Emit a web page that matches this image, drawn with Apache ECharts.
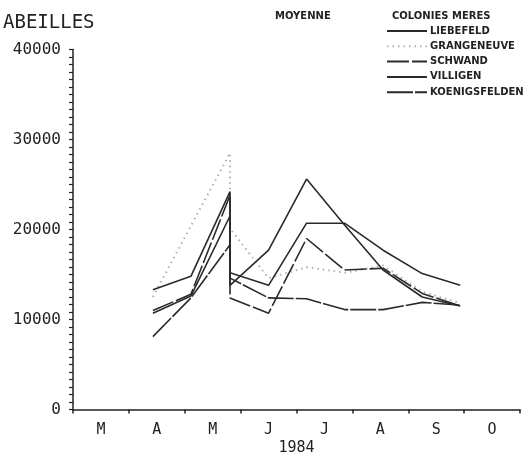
<!DOCTYPE html>
<html>
<head>
<meta charset="utf-8">
<script src="https://cdn.jsdelivr.net/npm/echarts@6/dist/echarts.min.js"></script>
<style>html,body{margin:0;padding:0;background:#fff}#c{width:532px;height:457px}</style>
</head>
<body>
<div id="c"></div>
<script>
// x positions: months elapsed since 1 March 1984 (samples every ~3 weeks)
var sampleMonths = [1.43, 2.11, 2.81, 2.81, 3.50, 4.18, 4.86, 5.55, 6.25, 6.93];
var monthLabels = ['M', 'A', 'M', 'J', 'J', 'A', 'S', 'O'];
var yTicks = [0, 10000, 20000, 30000, 40000];

var liebefeld     = [13300, 14800, 24200, 13800, 17700, 25600, 20500, 15500, 12500, 11500];
var grangeneuve   = [12500, 20400, 28500, 20100, 14600, 15800, 15200, 16000, 13100, 11800];
var schwand       = [11000, 12800, 23800, 12400, 10700, 19000, 15500, 15700, 12900, 11500];
var villigen      = [10700, 12600, 21500, 15200, 13800, 20700, 20700, 17700, 15100, 13800];
var koenigsfelden = [ 8100, 12400, 18300, 14600, 12400, 12300, 11100, 11100, 11900, 11600];

var seriesNames = ['LIEBEFELD', 'GRANGENEUVE', 'SCHWAND', 'VILLIGEN', 'KOENIGSFELDEN'];
var seriesValues = [liebefeld, grangeneuve, schwand, villigen, koenigsfelden];
var styles = [
  {color: '#2a2a2a', type: 'solid', width: 1.6},
  {color: '#b0b0b0', type: [1.5, 4], width: 2},
  {color: '#2a2a2a', type: [22, 3], width: 1.6},
  {color: '#2a2a2a', type: 'solid', width: 1.6},
  {color: '#2a2a2a', type: [26, 2], width: 1.6}
];

function pairs(vals) {
  return vals.map(function (v, i) { return [sampleMonths[i], v]; });
}

var mono = 'DejaVu Sans Mono';
var chart = echarts.init(document.getElementById('c'), null, {renderer: 'canvas'});
chart.setOption({
  animation: false,
  backgroundColor: '#fff',
  title: [
    {text: 'ABEILLES', left: 3, top: 14, padding: 0, textStyle: {fontFamily: mono, fontSize: 19, fontWeight: 'normal', color: '#222'}},
    {text: 'MOYENNE', left: 275, top: 11, padding: 0, textStyle: {fontFamily: 'DejaVu Sans', fontSize: 10, fontWeight: 'bold', color: '#222'}},
    {text: 'COLONIES MERES', left: 392, top: 11, padding: 0, textStyle: {fontFamily: 'DejaVu Sans', fontSize: 10, fontWeight: 'bold', color: '#222'}}
  ],
  legend: {
    orient: 'vertical',
    left: 386,
    top: 26,
    itemWidth: 40,
    itemHeight: 10,
    itemGap: 5.3,
    padding: 0,
    itemStyle: {opacity: 0},
    textStyle: {fontFamily: 'DejaVu Sans', fontSize: 10, fontWeight: 'bold', color: '#222', padding: [0, 0, 0, -2]},
    data: seriesNames
  },
  grid: {left: 73, right: 12, top: 49.5, bottom: 47.5, containLabel: false, outerBoundsMode: 'none'},
  xAxis: [
    {
      type: 'value', min: 0, max: 8, interval: 1,
      axisLine: {show: true, lineStyle: {color: '#222', width: 1.5}},
      axisTick: {show: true, length: 4, lineStyle: {color: '#222', width: 1.5}},
      axisLabel: {show: false},
      splitLine: {show: false},
      name: '1984', nameLocation: 'middle', nameGap: 31,
      nameTextStyle: {fontFamily: mono, fontSize: 15, color: '#222'}
    },
    {
      type: 'category', data: monthLabels, boundaryGap: true, position: 'bottom',
      axisLine: {show: false}, axisTick: {show: false}, splitLine: {show: false},
      axisLabel: {fontFamily: mono, fontSize: 15, color: '#222', margin: 13}
    }
  ],
  yAxis: {
    type: 'value', min: yTicks[0], max: yTicks[yTicks.length - 1], interval: 10000,
    axisLine: {show: true, lineStyle: {color: '#222', width: 1.5}},
    axisTick: {show: true, length: 4, lineStyle: {color: '#222', width: 1.2}},
    minorTick: {show: true, splitNumber: 12, length: 4, lineStyle: {color: '#222', width: 1.2}},
    axisLabel: {fontFamily: mono, fontSize: 16, color: '#222', margin: 12, formatter: function (v) { return String(v); }},
    splitLine: {show: false}
  },
  series: seriesNames.map(function (n, i) {
    return {
      name: n, type: 'line', xAxisIndex: 0, data: pairs(seriesValues[i]),
      showSymbol: false, symbol: 'none',
      lineStyle: styles[i], itemStyle: {color: styles[i].color},
      z: i === 1 ? 1 : 2
    };
  })
});
</script>
</body>
</html>
